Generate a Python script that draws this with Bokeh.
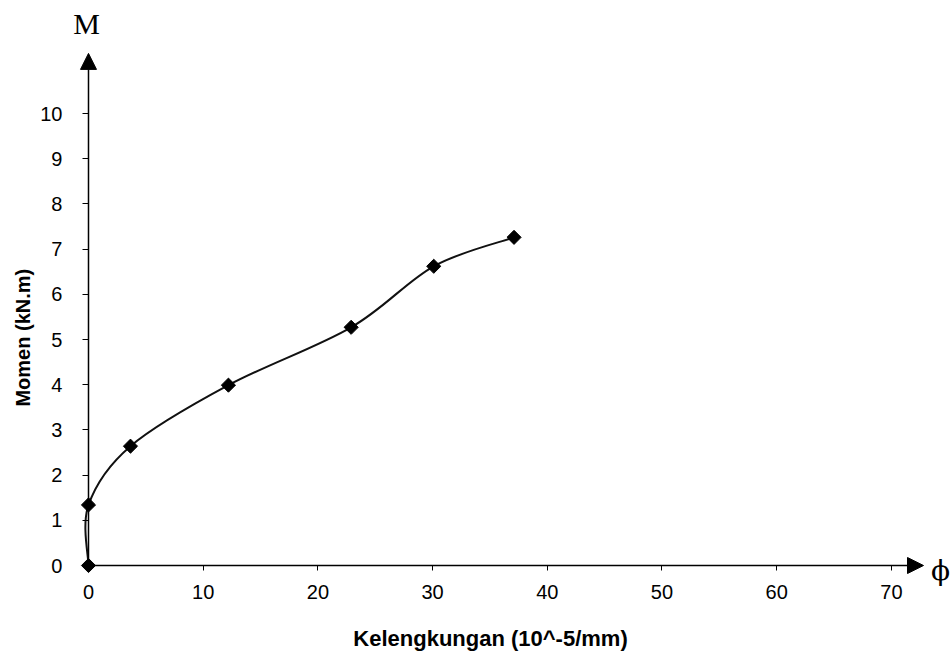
import numpy as np
from bokeh.plotting import figure
from bokeh.models import Range1d, FixedTicker, Arrow, NormalHead, Label
from bokeh.embed import file_html
from bokeh.resources import INLINE

# ---- data ----
curvature = [0.0, 0.0, 3.66, 12.2, 22.9, 30.1, 37.1]      # 10^-5/mm
moment = [0.0, 1.34, 2.64, 3.99, 5.27, 6.62, 7.26]        # kN.m
x_ticks = [0, 10, 20, 30, 40, 50, 60, 70]
y_ticks = [0, 1, 2, 3, 4, 5, 6, 7, 8, 9, 10]
x_title = "Kelengkungan (10^-5/mm)"
y_title = "Momen (kN.m)"
x_axis_end = 72.8
y_axis_end = 11.33

# ---- smoothed (Catmull-Rom style) bezier segments through the points ----
P = np.column_stack([curvature, moment])
n = len(P)
x0, y0, x1, y1, cx0, cy0, cx1, cy1 = ([] for _ in range(8))
for i in range(n - 1):
    pm = P[i - 1] if i > 0 else P[i]
    p0 = P[i]
    p1 = P[i + 1]
    pp = P[i + 2] if i + 2 < n else P[i + 1]
    c0 = p0 + (p1 - pm) / 6.0
    c1 = p1 - (pp - p0) / 6.0
    x0.append(p0[0]); y0.append(p0[1]); x1.append(p1[0]); y1.append(p1[1])
    cx0.append(c0[0]); cy0.append(c0[1]); cx1.append(c1[0]); cy1.append(c1[1])

p = figure(width=950, height=655, output_backend="svg", toolbar_location=None,
           x_range=Range1d(-7.672, 75.153), y_range=Range1d(-1.991, 12.5),
           min_border_left=0, min_border_right=0, min_border_top=0, min_border_bottom=0)
p.outline_line_color = None
p.grid.visible = False
p.background_fill_color = "white"

for ax in (p.xaxis, p.yaxis):
    ax.fixed_location = 0
    ax.axis_line_color = None
    ax.major_tick_in = 0
    ax.minor_tick_line_color = None
    ax.major_tick_line_color = "black"
    ax.major_label_text_font = "Liberation Sans"
    ax.major_label_text_font_size = "20px"
    ax.major_label_text_color = "black"

p.xaxis.ticker = FixedTicker(ticks=x_ticks)
p.yaxis.ticker = FixedTicker(ticks=y_ticks)
p.xaxis.major_tick_out = 5
p.yaxis.major_tick_out = 6
p.xaxis.major_label_standoff = 14
p.yaxis.major_label_standoff = 20

# axis titles
p.add_layout(Label(x=35.05, y=-1.615, text=x_title, text_font="Liberation Sans",
                   text_font_style="bold", text_font_size="22px", text_align="center",
                   text_baseline="middle", text_color="black"))
p.add_layout(Label(x=-5.67, y=5.04, text=y_title, angle=np.pi / 2, text_font="Liberation Sans",
                   text_font_style="bold", text_font_size="20px", text_align="center",
                   text_baseline="middle", text_color="black"))

# axis arrows
p.add_layout(Arrow(end=NormalHead(size=16, fill_color="black", line_color="black"),
                   x_start=0, y_start=0, x_end=0, y_end=y_axis_end,
                   line_color="black", line_width=1.5))
p.add_layout(Arrow(end=NormalHead(size=16, fill_color="black", line_color="black"),
                   x_start=0, y_start=0, x_end=x_axis_end, y_end=0,
                   line_color="black", line_width=1.5))

p.bezier(x0=x0, y0=y0, x1=x1, y1=y1, cx0=cx0, cy0=cy0, cx1=cx1, cy1=cy1,
         line_color="#111111", line_width=2)
p.scatter(curvature, moment, marker="square", angle=np.pi / 4, size=10,
          fill_color="black", line_color="black")

p.add_layout(Label(x=-0.17, y=11.99, text="M", text_font="Liberation Serif",
                   text_font_size="30px", text_align="center", text_baseline="middle",
                   text_color="black"))
p.add_layout(Label(x=74.28, y=-0.11, text="\u03d5", text_font="DejaVu Serif",
                   text_font_size="28px", text_align="center", text_baseline="middle",
                   text_color="black"))

open("out.html", "w").write(file_html(p, INLINE))
